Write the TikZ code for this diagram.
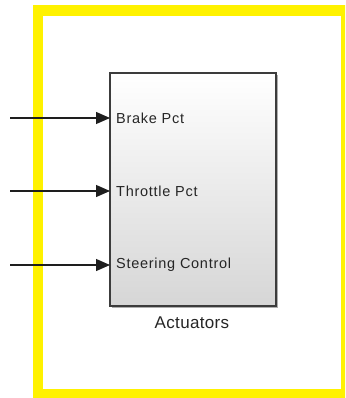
\documentclass[tikz,border=0pt]{standalone}
\usepackage{fontspec}
\setmainfont{Liberation Sans}
\usetikzlibrary{arrows.meta,shadows}
\definecolor{frameyellow}{RGB}{255,242,0}
\definecolor{blockline}{RGB}{60,60,60}
\definecolor{blockbottom}{RGB}{214,214,214}
\definecolor{wire}{RGB}{30,30,30}
\tikzset{
  blockbox/.style={draw=blockline, line width=1.4pt, top color=white, bottom color=blockbottom,
    minimum width=166pt, minimum height=233pt, inner sep=0pt,
    drop shadow={shadow xshift=2pt, shadow yshift=-2pt, opacity=0.45, fill=black!70}},
  portlabel/.style={anchor=west, inner sep=0pt, font=\fontsize{14.5}{16}\selectfont\addfontfeature{LetterSpace=5}, text=black!85},
  blocklabel/.style={anchor=base, inner sep=0pt, font=\fontsize{17}{19}\selectfont\addfontfeature{LetterSpace=2}, text=black!85},
  wirearrow/.style={draw=wire, line width=1.2pt, -{Triangle[length=14pt,width=12pt]}}
}
\begin{document}
\begin{tikzpicture}[x=1pt,y=-1pt]
\clip (0,0) rectangle (345,398);
\fill[white] (0,0) rectangle (345,398);
% yellow frame
\fill[frameyellow] (33,5) rectangle (352,405);
\fill[white] (43,16) rectangle (341,389);
% block
\node[blockbox] (act) at (193,189.5) {};
\node[blocklabel] (actlbl) at (192,328) {Actuators};
% ports
\coordinate (p1) at (110,118);
\coordinate (p2) at (110,191);
\coordinate (p3) at (110,265);
\coordinate (s1) at (10,118);
\coordinate (s2) at (10,191);
\coordinate (s3) at (10,265);
\draw[wirearrow] (s1) -- (p1);
\draw[wirearrow] (s2) -- (p2);
\draw[wirearrow] (s3) -- (p3);
\node[portlabel] (l1) at (116,118) {Brake Pct};
\node[portlabel] (l2) at (116,191) {Throttle Pct};
\node[portlabel] (l3) at (116,265) {Steering Control};
\end{tikzpicture}
\end{document}
